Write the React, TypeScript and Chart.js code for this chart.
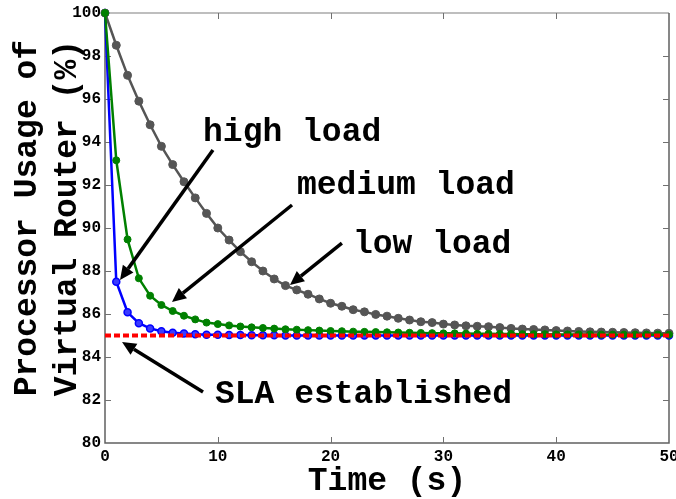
import React, { useEffect, useRef } from "react";
import { Chart, registerables } from "chart.js";

Chart.register(...registerables);

const timeSteps = [0,1,2,3,4,5,6,7,8,9,10,11,12,13,14,15,16,17,18,19,20,21,22,23,24,25,26,27,28,29,30,31,32,33,34,35,36,37,38,39,40,41,42,43,44,45,46,47,48,49,50];

const lowLoad = [100, 98.5, 97.1, 95.9, 94.8, 93.8, 92.95, 92.15, 91.4, 90.68, 90.0, 89.44, 88.9, 88.43, 88.0, 87.63, 87.32, 87.12, 86.92, 86.7, 86.5, 86.36, 86.2, 86.1, 85.98, 85.9, 85.8, 85.72, 85.64, 85.6, 85.53, 85.49, 85.45, 85.43, 85.41, 85.37, 85.33, 85.3, 85.28, 85.26, 85.23, 85.21, 85.19, 85.17, 85.16, 85.15, 85.14, 85.13, 85.12, 85.11, 85.1];

const mediumLoad = [100, 93.15, 89.47, 87.66, 86.85, 86.42, 86.14, 85.92, 85.75, 85.6, 85.53, 85.47, 85.42, 85.38, 85.35, 85.32, 85.29, 85.27, 85.25, 85.23, 85.21, 85.2, 85.18, 85.17, 85.16, 85.15, 85.14, 85.13, 85.12, 85.11, 85.1, 85.1, 85.09, 85.08, 85.08, 85.07, 85.07, 85.06, 85.06, 85.06, 85.05, 85.05, 85.05, 85.05, 85.04, 85.04, 85.04, 85.04, 85.04, 85.04, 85.04];

const highLoad = [100, 87.5, 86.08, 85.57, 85.33, 85.2, 85.13, 85.09, 85.06, 85.04, 85.03, 85.02, 85.02, 85.01, 85.01, 85.01, 85, 85, 85, 85, 85, 85, 85, 85, 85, 85, 85, 85, 85, 85, 85, 85, 85, 85, 85, 85, 85, 85, 85, 85, 85, 85, 85, 85, 85, 85, 85, 85, 85, 85, 85];

const slaLevel = 85;
const slaRange = [0, 50];

const xTicks = [0, 10, 20, 30, 40, 50];
const yTicks = [80, 82, 84, 86, 88, 90, 92, 94, 96, 98, 100];

// annotations in data units: label position, arrow tail, arrow tip
const annotations = [
  { text: "high load", tx: 8.69, ty: 94.42, x0: 9.57, y0: 93.63, x1: 1.33, y1: 87.58 },
  { text: "medium load", tx: 17.02, ty: 91.95, x0: 16.58, y0: 91.07, x1: 5.94, y1: 86.56 },
  { text: "low load", tx: 21.98, ty: 89.21, x0: 21.0, y0: 89.3, x1: 16.4, y1: 87.35 },
  { text: "SLA established", tx: 9.75, ty: 82.23, x0: 8.69, y0: 82.37, x1: 1.51, y1: 84.7 },
];

const MONO = "'Liberation Mono', 'Courier New', monospace";

const toXY = (vals: number[]) => vals.map((v, i) => ({ x: timeSteps[i], y: v }));

const boxPlugin = {
  id: "boxPlugin",
  beforeDatasetsDraw(chart: any) {
    const { ctx, chartArea: a, scales } = chart;
    const xs = scales.x, ys = scales.y;
    ctx.save();
    ctx.lineWidth = 1.5;
    ctx.strokeStyle = "#a8a8a8";
    ctx.beginPath();
    ctx.moveTo(a.left, a.top);
    ctx.lineTo(a.right, a.top);
    ctx.stroke();
    ctx.strokeStyle = "#606060";
    ctx.beginPath();
    ctx.moveTo(a.left, a.top);
    ctx.lineTo(a.left, a.bottom);
    ctx.lineTo(a.right, a.bottom);
    ctx.lineTo(a.right, a.top);
    ctx.stroke();
    ctx.lineWidth = 1;
    ctx.strokeStyle = "#707070";
    const tl = 6;
    ctx.beginPath();
    xTicks.slice(1, -1).forEach((v) => {
      const px = Math.round(xs.getPixelForValue(v)) + 0.5;
      ctx.moveTo(px, a.bottom);
      ctx.lineTo(px, a.bottom - tl);
      ctx.moveTo(px, a.top);
      ctx.lineTo(px, a.top + tl);
    });
    yTicks.slice(1, -1).forEach((v) => {
      const py = Math.round(ys.getPixelForValue(v)) + 0.5;
      ctx.moveTo(a.left, py);
      ctx.lineTo(a.left + tl, py);
      ctx.moveTo(a.right, py);
      ctx.lineTo(a.right - tl, py);
    });
    ctx.stroke();
    ctx.restore();
  },
  afterDraw(chart: any) {
    const { ctx, scales } = chart;
    const xs = scales.x, ys = scales.y;
    ctx.save();
    ctx.fillStyle = "#000";
    ctx.strokeStyle = "#000";
    ctx.font = `bold 33px ${MONO}`;
    ctx.textBaseline = "middle";
    ctx.textAlign = "left";
    annotations.forEach((an) => {
      ctx.fillText(an.text, xs.getPixelForValue(an.tx), ys.getPixelForValue(an.ty));
      const x0 = xs.getPixelForValue(an.x0), y0 = ys.getPixelForValue(an.y0);
      const x1 = xs.getPixelForValue(an.x1), y1 = ys.getPixelForValue(an.y1);
      const ang = Math.atan2(y1 - y0, x1 - x0);
      const hl = 14, hw = 6.5;
      const bx = x1 - hl * Math.cos(ang), by = y1 - hl * Math.sin(ang);
      ctx.lineWidth = 3.5;
      ctx.beginPath();
      ctx.moveTo(x0, y0);
      ctx.lineTo(bx, by);
      ctx.stroke();
      ctx.beginPath();
      ctx.moveTo(x1, y1);
      ctx.lineTo(bx + hw * Math.sin(ang), by - hw * Math.cos(ang));
      ctx.lineTo(bx - hw * Math.sin(ang), by + hw * Math.cos(ang));
      ctx.closePath();
      ctx.fill();
    });
    ctx.restore();
  },
};

export default function App() {
  const ref = useRef<HTMLCanvasElement | null>(null);
  useEffect(() => {
    if (!ref.current) return;
    const chart = new Chart(ref.current, {
      type: "line",
      data: {
        datasets: [
          {
            label: "SLA",
            data: slaRange.map((t) => ({ x: t, y: slaLevel })),
            borderColor: "#ff0000",
            borderWidth: 4,
            borderDash: [6, 3],
            pointRadius: 0,
            clip: false as any,
          },
          {
            label: "medium load",
            data: toXY(mediumLoad),
            borderColor: "#008000",
            backgroundColor: "#008000",
            borderWidth: 2.5,
            pointRadius: 3.5,
            pointBorderWidth: 1,
            pointStyle: "circle",
            clip: false as any,
          },
          {
            label: "low load",
            data: toXY(lowLoad),
            borderColor: "#555555",
            backgroundColor: "#555555",
            borderWidth: 2.5,
            pointRadius: 4,
            pointBorderWidth: 1,
            clip: false as any,
          },
          {
            label: "high load",
            data: toXY(highLoad),
            borderColor: "#0000ff",
            backgroundColor: "#3a3aff",
            borderWidth: 2.5,
            pointRadius: 3.5,
            pointBorderWidth: 1.5,
            clip: false as any,
          },
        ],
      },
      options: {
        responsive: false,
        animation: false,
        events: [],
        layout: { padding: { left: 0, right: 7, top: 13, bottom: 0 } },
        plugins: { legend: { display: false }, tooltip: { enabled: false } },
        scales: {
          x: {
            type: "linear",
            min: 0,
            max: 50,
            grid: { display: false, drawTicks: false },
            border: { display: false },
            ticks: {
              stepSize: 10,
              padding: 4,
              color: "#000",
              maxRotation: 0,
              font: { family: MONO, size: 16, weight: "bold" },
            },
            title: {
              display: true,
              text: "Time (s)",
              color: "#000",
              font: { family: MONO, size: 33, weight: "bold", lineHeight: 1.05 },
              padding: { top: 0, bottom: 0 },
            },
            afterFit(scale: any) {
              scale.height = 56;
              scale.paddingLeft = 0;
              scale.paddingRight = 0;
            },
          },
          y: {
            type: "linear",
            min: 80,
            max: 100,
            grid: { display: false, drawTicks: false },
            border: { display: false },
            ticks: {
              stepSize: 2,
              padding: 4,
              color: "#000",
              font: { family: MONO, size: 16, weight: "bold" },
            },
            title: {
              display: true,
              text: [" Processor Usage of", " Virtual Router (%)"],
              color: "#000",
              font: { family: MONO, size: 33, weight: "bold", lineHeight: 1.212 },
              padding: { top: 8, bottom: 0 },
            },
            afterFit(scale: any) {
              scale.width = 105;
              scale.paddingTop = 0;
              scale.paddingBottom = 0;
            },
          },
        },
      } as any,
      plugins: [boxPlugin],
    });
    return () => chart.destroy();
  }, []);
  return (
    <div style={{ position: "fixed", left: 0, top: 0, width: 676, height: 499, background: "#fff" }}>
      <canvas ref={ref} width={676} height={499} style={{ display: "block" }} />
    </div>
  );
}
